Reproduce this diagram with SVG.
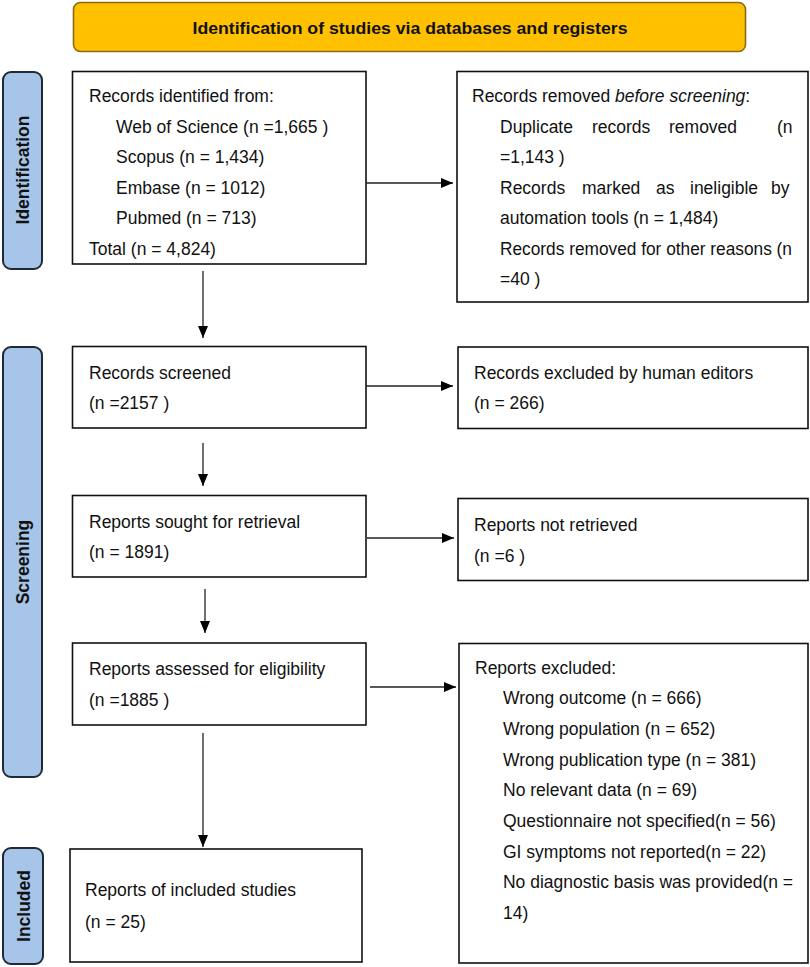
<svg xmlns="http://www.w3.org/2000/svg" width="810" height="967" viewBox="0 0 810 967">
<defs>
<style>
.box{fill:#fff;stroke:#111;stroke-width:1.6}
.lab{fill:#A7C5E8;stroke:#1E2A38;stroke-width:2}
.ban{fill:#FFC000;stroke:#8A6A12;stroke-width:1.6}
.t{font-family:"Liberation Sans",Arial,sans-serif;font-size:17.5px;fill:#111}
.bt{font-family:"Liberation Sans",Arial,sans-serif;font-size:17px;font-weight:bold;fill:#111}
.lt{font-family:"Liberation Sans",Arial,sans-serif;font-size:17.5px;font-weight:bold;fill:#111}
.c{stroke:#222;stroke-width:1.3;fill:none}
</style>
<marker id="ah" markerWidth="12" markerHeight="10" refX="12" refY="5" orient="auto" markerUnits="userSpaceOnUse">
<path d="M0,0 L12,5 L0,10 Z" fill="#000"/>
</marker>
</defs>
<rect width="810" height="967" fill="#fff"/>

<g id="banner">
<rect class="ban" x="73.5" y="2.5" width="672" height="49" rx="7"/>
<text class="bt" x="410" y="34" text-anchor="middle" textLength="435" lengthAdjust="spacingAndGlyphs">Identification of studies via databases and registers</text>
</g>

<g id="label-identification">
<rect class="lab" x="3" y="72" width="39" height="197" rx="8"/>
<text class="lt" transform="translate(29,170) rotate(-90)" text-anchor="middle">Identification</text>
</g>
<g id="label-screening">
<rect class="lab" x="3" y="347" width="39" height="430" rx="8"/>
<text class="lt" transform="translate(29,562) rotate(-90)" text-anchor="middle">Screening</text>
</g>
<g id="label-included">
<rect class="lab" x="3" y="848" width="40" height="116" rx="8"/>
<text class="lt" transform="translate(29.5,906) rotate(-90)" text-anchor="middle">Included</text>
</g>

<g id="records-identified">
<rect class="box" x="72.5" y="71.5" width="293.5" height="192.5"/>
<text class="t" x="89" y="101.5">Records identified from:</text>
<text class="t" x="116" y="132.5">Web of Science (n =1,665 )</text>
<text class="t" x="116" y="163">Scopus (n = 1,434)</text>
<text class="t" x="116" y="193.5">Embase (n = 1012)</text>
<text class="t" x="116" y="224">Pubmed (n = 713)</text>
<text class="t" x="89" y="254.5">Total (n = 4,824)</text>
</g>

<g id="records-removed">
<rect class="box" x="457" y="71.5" width="351" height="230.5"/>
<text class="t" x="472" y="101.5">Records removed <tspan font-style="italic">before screening</tspan>:</text>
<text class="t" y="132.5"><tspan x="500">Duplicate</tspan><tspan x="592">records</tspan><tspan x="669">removed</tspan><tspan x="777">(n</tspan></text>
<text class="t" x="500" y="163">=1,143 )</text>
<text class="t" y="193.5"><tspan x="500">Records</tspan><tspan x="582">marked</tspan><tspan x="656">as</tspan><tspan x="690">ineligible</tspan><tspan x="771">by</tspan></text>
<text class="t" x="500" y="224">automation tools (n = 1,484)</text>
<text class="t" x="500" y="254.5" textLength="292" lengthAdjust="spacingAndGlyphs">Records removed for other reasons (n</text>
<text class="t" x="500" y="285">=40 )</text>
</g>

<g id="records-screened">
<rect class="box" x="72.5" y="346.5" width="293.5" height="81.5"/>
<text class="t" x="89" y="379">Records screened</text>
<text class="t" x="89" y="409">(n =2157 )</text>
</g>

<g id="records-excluded">
<rect class="box" x="458" y="347" width="350" height="81.5"/>
<text class="t" x="474" y="379">Records excluded by human editors</text>
<text class="t" x="474" y="409">(n = 266)</text>
</g>

<g id="reports-sought">
<rect class="box" x="72.5" y="495.5" width="293.5" height="81.5"/>
<text class="t" x="89" y="528">Reports sought for retrieval</text>
<text class="t" x="89" y="558">(n = 1891)</text>
</g>

<g id="reports-not-retrieved">
<rect class="box" x="458" y="498.5" width="350" height="82"/>
<text class="t" x="474" y="531">Reports not retrieved</text>
<text class="t" x="474" y="562">(n =6 )</text>
</g>

<g id="reports-assessed">
<rect class="box" x="72.5" y="643" width="293.5" height="82"/>
<text class="t" x="89" y="675">Reports assessed for eligibility</text>
<text class="t" x="89" y="706">(n =1885 )</text>
</g>

<g id="reports-excluded">
<rect class="box" x="459" y="643.5" width="349" height="319.5"/>
<text class="t" x="475" y="674">Reports excluded:</text>
<text class="t" x="503" y="704">Wrong outcome (n = 666)</text>
<text class="t" x="503" y="735">Wrong population (n = 652)</text>
<text class="t" x="503" y="766">Wrong publication type (n = 381)</text>
<text class="t" x="503" y="796">No relevant data (n = 69)</text>
<text class="t" x="503" y="827">Questionnaire not specified(n = 56)</text>
<text class="t" x="503" y="858">GI symptoms not reported(n = 22)</text>
<text class="t" x="503" y="888" textLength="290" lengthAdjust="spacingAndGlyphs">No diagnostic basis was provided(n =</text>
<text class="t" x="503" y="919">14)</text>
</g>

<g id="reports-included">
<rect class="box" x="70" y="849" width="292" height="113"/>
<text class="t" x="85" y="896">Reports of included studies</text>
<text class="t" x="85" y="928">(n = 25)</text>
</g>

<g id="connectors">
<line class="c" x1="203" y1="271" x2="203" y2="338" marker-end="url(#ah)"/>
<line class="c" x1="366" y1="183" x2="453" y2="183" marker-end="url(#ah)"/>
<line class="c" x1="366" y1="386" x2="453" y2="386" marker-end="url(#ah)"/>
<line class="c" x1="203" y1="443" x2="203" y2="486" marker-end="url(#ah)"/>
<line class="c" x1="367" y1="538" x2="454" y2="538" marker-end="url(#ah)"/>
<line class="c" x1="205" y1="589" x2="205" y2="633" marker-end="url(#ah)"/>
<line class="c" x1="370" y1="687" x2="456" y2="687" marker-end="url(#ah)"/>
<line class="c" x1="203" y1="733" x2="203" y2="847" marker-end="url(#ah)"/>
</g>
</svg>
